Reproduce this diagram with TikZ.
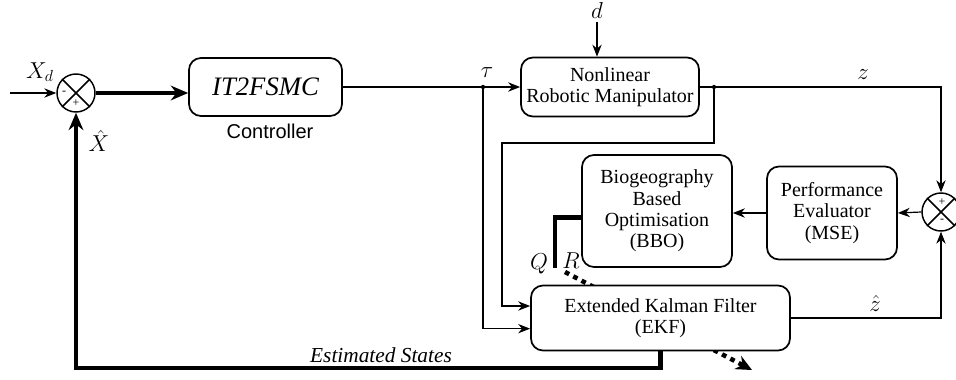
\documentclass[tikz,border=0pt]{standalone}
\usepackage{fontspec}
\setmainfont{Liberation Serif}
\setsansfont{Liberation Sans}
\usepackage{tikz}
\usetikzlibrary{positioning, arrows.meta}

\begin{document}
\begin{tikzpicture}[x=0.75pt, y=-0.75pt,
		blk/.style={rectangle, rounded corners=9pt, draw, line width=1.3pt, fill=white, align=center, font=\fontsize{15}{16}\selectfont},
		sum/.style={circle, draw, line width=1.1pt, minimum size=28.5pt, inner sep=0pt},
		sig/.style={-{Stealth[length=9pt, width=7pt]}, line width=0.9pt},
		big/.style={-{Stealth[length=13pt, width=11pt]}, line width=3.6pt},
		lbl/.style={font=\fontsize{18}{18}\selectfont, inner sep=1pt}]
		\useasboundingbox (0,0) rectangle (956,379);

		% tuning arrow behind the filter
		\coordinate (qr) at (565,272);
		\coordinate (adapt) at (752,370);
		\draw[line width=3.4pt, dash pattern=on 3.5pt off 3.5pt, -{Stealth[length=12pt, width=11pt]}] (qr) -- (adapt);

		\node[sum] (sl) at (76,93) {};
		\node[blk, minimum width=114.75pt, minimum height=43.5pt] (ctrl) at (265.5,87) {\fontsize{20}{20}\selectfont\itshape IT2FSMC};
		\node[blk, minimum width=133.5pt, minimum height=44.25pt] (plant) at (610,87) {Nonlinear\\Robotic Manipulator};
		\node[blk, minimum width=112.5pt, minimum height=84pt] (bbo) at (657,211) {Biogeography\\Based\\Optimisation\\(BBO)};
		\node[blk, minimum width=97.5pt, minimum height=69.75pt] (perf) at (832,213) {Performance\\Evaluator\\(MSE)};
		\node[blk, minimum width=194.25pt, minimum height=48.75pt] (ekf) at (660.5,318) {Extended Kalman Filter\\(EKF)};
		\node[sum] (sr) at (941,212) {};

		% crosses and signs
		\draw[line width=1.1pt] (sl.north west) -- (sl.south east) (sl.north east) -- (sl.south west);
		\draw[line width=1.1pt] (sr.north west) -- (sr.south east) (sr.north east) -- (sr.south west);
		\node[font=\small] at (64,93) {-};
		\node[font=\small] at (76,103) {+};
		\node[font=\small] at (942,202) {+};
		\node[font=\small] at (942,221) {-};

		\coordinate (in) at (10,93);
		\coordinate (dist) at (597,22);
		\coordinate (tj) at (483,87);
		\coordinate (zj) at (714,87);
		\coordinate (fb) at (502,143);
		\coordinate (qend) at (555,268);
		\coordinate (bot) at (660.5,368);

		\draw[sig] (in) -- (sl.west);
		\draw[big] (sl.east) -- (sl.east -| ctrl.west);
		\draw[sig] (ctrl.east) -- (plant.west);
		\draw[sig] (dist) -- (dist |- plant.north);
		\draw[sig] (plant.east) -| (sr.north);
		\draw[sig] (tj) |- ([yshift=-8pt]ekf.west);
		\draw[sig] (zj) |- (fb) |- ([yshift=9pt]ekf.west);
		\fill (tj) circle (1.6pt) (zj) circle (1.6pt);
		\draw[sig] (sr.west) -- (perf.east);
		\draw[sig] (perf.west) -- (perf.west -| bbo.east);
		\draw[line width=3.6pt] ([yshift=-5pt]bbo.west) -| (qend);
		\draw[sig] (ekf.east) -| (sr.south);
		\draw[big] (ekf.south) -- (bot) -| (sl.south);

		% labels
		\node[lbl] at (40,72) {$X_d$};
		\node[lbl] at (99,141) {$\hat{X}$};
		\node[font=\sffamily\fontsize{15}{15}\selectfont] at (270,131) {Controller};
		\node[lbl] at (487,73) {$\tau$};
		\node[lbl] at (597,10) {$d$};
		\node[lbl] at (863,75) {$z$};
		\node[lbl] at (875,303) {$\hat{z}$};
		\node[lbl] at (539,264) {$Q$};
		\node[lbl] at (571,261) {$R$};
		\node[font=\fontsize{16}{16}\selectfont\itshape] at (381,355) {Estimated States};
	\end{tikzpicture}
\end{document}
